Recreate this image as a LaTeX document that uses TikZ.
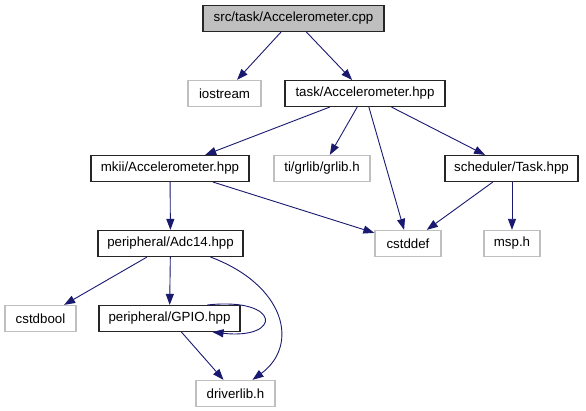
\documentclass[tikz,border=0pt]{standalone}
\usepackage{fontspec}
\setmainfont{Liberation Sans}
\usetikzlibrary{arrows.meta}
\definecolor{DoxEdge}{HTML}{191970}
\definecolor{DoxGrey}{HTML}{BFBFBF}

\begin{document}
\begin{tikzpicture}[x=1pt, y=-1pt,
    doc/.style={draw=black!85, line width=1.1pt, minimum height=26pt, inner sep=0pt, font=\fontsize{13.3}{15}\selectfont},
    ext/.style={doc, draw=DoxGrey, line width=1.3pt},
    edge/.style={-{Triangle[length=11pt,width=8pt]}, DoxEdge, line width=0.9pt}]
    \useasboundingbox (0,0) rectangle (586,411);

    % Datei selbst (oben)
    \node[doc, fill=DoxGrey, minimum width=181pt] (cpp) at (293.5,18.5) {src/task/Accelerometer.cpp};

    % zweite Ebene
    \node[ext, minimum width=73pt] (iostream) at (224.5,93.5) {iostream};
    \node[doc, minimum width=160pt] (task) at (365,93.5) {task/Accelerometer.hpp};

    % dritte Ebene
    \node[doc, minimum width=158pt] (mkii) at (170,168.5) {mkii/Accelerometer.hpp};
    \node[ext, minimum width=96pt] (grlib) at (322,168.5) {ti/grlib/grlib.h};
    \node[doc, minimum width=133pt] (sched) at (511.5,168.5) {scheduler/Task.hpp};

    % vierte Ebene
    \node[doc, minimum width=145pt] (adc) at (170.5,243.5) {peripheral/Adc14.hpp};
    \node[ext, minimum width=66pt] (cstddef) at (408,243.5) {cstddef};
    \node[ext, minimum width=56pt] (msp) at (512,243.5) {msp.h};

    % untere Ebenen
    \node[ext, minimum width=71pt] (cstdbool) at (40.5,318.5) {cstdbool};
    \node[doc, minimum width=141pt] (gpio) at (169.5,318.5) {peripheral/GPIO.hpp};
    \node[ext, minimum width=79pt] (drv) at (235.5,393.5) {driverlib.h};

    % Abhaengigkeiten
    \draw[edge] (cpp) -- (iostream);
    \draw[edge] (cpp) -- (task);
    \draw[edge] (task) -- (mkii);
    \draw[edge] (task) -- (grlib);
    \draw[edge] (task) -- (cstddef);
    \draw[edge] (task) -- (sched);
    \draw[edge] (mkii) -- (adc);
    \draw[edge] (mkii) -- (cstddef);
    \draw[edge] (sched) -- (cstddef);
    \draw[edge] (sched.south -| msp) -- (msp);
    \draw[edge] (adc) -- (cstdbool);
    \draw[edge] (adc) -- (gpio);
    \draw[edge] ([xshift=40pt]adc.south) .. controls (285,285) and (300,345) .. ([xshift=17pt]drv.north);
    \draw[edge] ([xshift=38pt]gpio.north) .. controls (282,297) and (282,340) .. ([xshift=43pt]gpio.south);
    \draw[edge] (gpio) -- (drv);
  \end{tikzpicture}
\end{document}
